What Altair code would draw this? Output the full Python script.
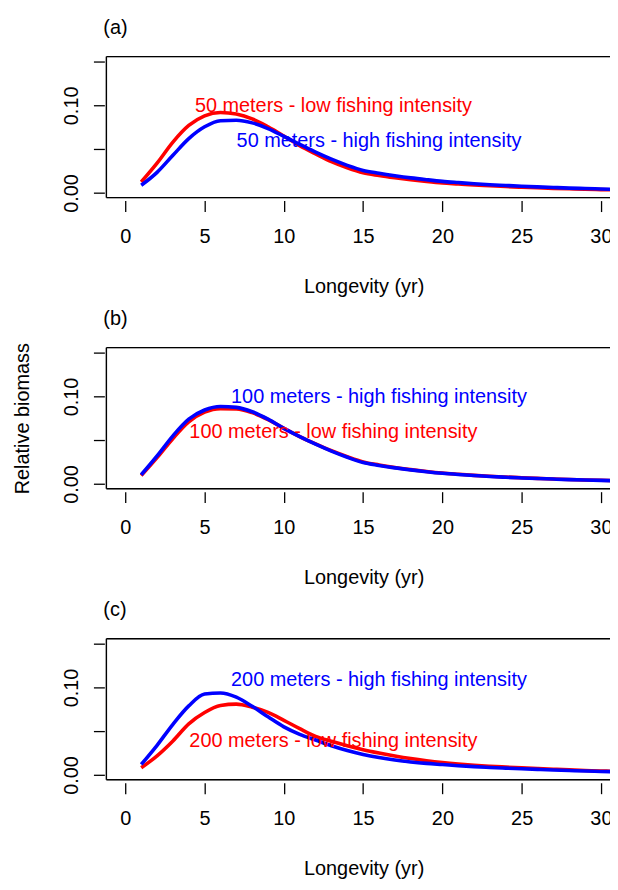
import altair as alt
import pandas as pd

# ---------------- data ----------------
longevity = [1, 2, 3, 4, 5, 6, 7, 8, 9, 10, 11, 12, 13, 14, 15, 16,
             17, 18, 19, 20, 21, 22, 23, 24, 25, 26, 27, 28, 29, 30, 31]

a_low = [0.0125, 0.034, 0.058, 0.077, 0.088, 0.0918, 0.0900, 0.0845, 0.0755, 0.065,
         0.054, 0.0446, 0.0358, 0.0287, 0.023, 0.0199, 0.0173, 0.0150, 0.0130, 0.0113,
         0.0102, 0.0091, 0.0082, 0.0073, 0.0065, 0.0058, 0.0052, 0.0047, 0.0042, 0.0038, 0.0035]
a_high = [0.0087, 0.0235, 0.043, 0.062, 0.0755, 0.0825, 0.0830, 0.0800, 0.0735, 0.0645,
          0.0555, 0.0465, 0.0385, 0.0315, 0.0257, 0.0225, 0.0197, 0.0172, 0.0151, 0.0132,
          0.0118, 0.0105, 0.0094, 0.0085, 0.0076, 0.0069, 0.0062, 0.0055, 0.0050, 0.0045, 0.0041]

b_low = [0.0095, 0.030, 0.052, 0.071, 0.082, 0.086, 0.0858, 0.0815, 0.0735, 0.0635,
         0.0542, 0.0458, 0.0380, 0.0312, 0.0252, 0.0217, 0.0188, 0.0164, 0.0143, 0.0125,
         0.0111, 0.0098, 0.0088, 0.0079, 0.0071, 0.0064, 0.0057, 0.0051, 0.0046, 0.0042, 0.0038]
b_high = [0.0105, 0.032, 0.055, 0.074, 0.0845, 0.0885, 0.0875, 0.0825, 0.074, 0.0635,
          0.054, 0.0454, 0.0375, 0.0305, 0.0245, 0.0212, 0.0184, 0.0161, 0.0140, 0.0122,
          0.0108, 0.0096, 0.0086, 0.0077, 0.0069, 0.0062, 0.0056, 0.0050, 0.0045, 0.0041, 0.0037]

c_low = [0.0083, 0.022, 0.039, 0.0585, 0.0715, 0.0795, 0.0810, 0.0775, 0.0715, 0.0625,
         0.0530, 0.0442, 0.0385, 0.0335, 0.0290, 0.0252, 0.0218, 0.0188, 0.0163, 0.0142,
         0.0125, 0.0111, 0.0100, 0.0091, 0.0083, 0.0075, 0.0067, 0.0059, 0.0052, 0.0046, 0.0042]
c_high = [0.0121, 0.034, 0.058, 0.079, 0.0925, 0.0938, 0.0890, 0.0785, 0.0665, 0.0550,
          0.0465, 0.0400, 0.0335, 0.0280, 0.0235, 0.0200, 0.0172, 0.0150, 0.0133, 0.0120,
          0.0107, 0.0096, 0.0087, 0.0079, 0.0072, 0.0065, 0.0058, 0.0052, 0.0046, 0.0041, 0.0037]

panel_tags = ["(a)", "(b)", "(c)"]
depths = ["50", "100", "200"]
low_label_x = [13, 13, 13]
low_label_y = [0.10, 0.06, 0.04]
high_label_x = [16, 16, 16]
high_label_y = [0.06, 0.10, 0.11]

x_ticks = [0, 5, 10, 15, 20, 25, 30]
y_ticks = [0, 0.05, 0.10, 0.15]

RED = "#ff0000"
BLUE = "#0000ff"
FONT = "Liberation Sans"
W, H = 509, 142


def panel(i, low, high, show_ytitle):
    df_low = pd.DataFrame({"x": longevity, "y": low})
    df_high = pd.DataFrame({"x": longevity, "y": high})

    x_enc = alt.X(
        "x:Q",
        scale=alt.Scale(domain=[-1.2, 30.7], nice=False, zero=False),
        axis=alt.Axis(
            values=x_ticks, format="d", domain=False, grid=False,
            tickSize=11, tickWidth=1.3, tickColor="black", offset=3,
            labelPadding=15, labelFontSize=20, labelFont=FONT, labelColor="black",
            labelAngle=0, labelOverlap=False,
            title="Longevity (yr)", titleFontSize=20, titleFont=FONT,
            titleFontWeight="normal", titleColor="black", titlePadding=30,
            titleX=259,
        ),
    )
    y_enc = alt.Y(
        "y:Q",
        scale=alt.Scale(domain=[-0.0054, 0.1557], nice=False, zero=False),
        axis=alt.Axis(
            values=y_ticks, domain=False, grid=False,
            labelExpr="(datum.value < 0.001 || abs(datum.value - 0.1) < 0.001) ? format(datum.value, '.2f') : ''",
            tickSize=11, tickWidth=1.3, tickColor="black", offset=2,
            labelAngle=270, labelAlign="center", labelBaseline="bottom",
            labelPadding=12, labelFontSize=20, labelFont=FONT, labelColor="black",
            labelOverlap=False,
            title="Relative biomass", titleFontSize=20, titleFont=FONT,
            titleFontWeight="normal", titleColor="black", titlePadding=29,
            titleOpacity=1 if show_ytitle else 0,
        ),
    )

    red_line = alt.Chart(df_low).mark_line(
        color=RED, strokeWidth=3.6, interpolate="monotone", clip=True
    ).encode(x=x_enc, y=y_enc)
    blue_line = alt.Chart(df_high).mark_line(
        color=BLUE, strokeWidth=3.6, interpolate="monotone", clip=True
    ).encode(x=x_enc, y=y_enc)

    lab_low = pd.DataFrame({"x": [low_label_x[i]], "y": [low_label_y[i]],
                            "t": [f"{depths[i]} meters - low fishing intensity"]})
    lab_high = pd.DataFrame({"x": [high_label_x[i]], "y": [high_label_y[i]],
                             "t": [f"{depths[i]} meters - high fishing intensity"]})
    txt_low = alt.Chart(lab_low).mark_text(
        color=RED, fontSize=20, font=FONT, align="center", baseline="middle", dx=2, dy=1
    ).encode(x=x_enc, y=y_enc, text="t:N")
    txt_high = alt.Chart(lab_high).mark_text(
        color=BLUE, fontSize=20, font=FONT, align="center", baseline="middle", dy=1
    ).encode(x=x_enc, y=y_enc, text="t:N")

    one = pd.DataFrame({"k": [0]})
    top_rule = alt.Chart(one).mark_rule(color="black", strokeWidth=1.4).encode(
        x=alt.value(0), x2=alt.value(W), y=alt.value(0))
    left_rule = alt.Chart(one).mark_rule(color="black", strokeWidth=1.4).encode(
        x=alt.value(0), y=alt.value(0), y2=alt.value(H))
    bottom_rule = alt.Chart(one).mark_rule(color="black", strokeWidth=1.4).encode(
        x=alt.value(0), x2=alt.value(W), y=alt.value(H))

    return alt.layer(
        red_line, blue_line, txt_low, txt_high, top_rule, left_rule, bottom_rule
    ).properties(
        width=W, height=H,
        title=alt.TitleParams(
            panel_tags[i], anchor="start", frame="group", fontSize=20, font=FONT,
            fontWeight="normal", color="black", baseline="alphabetic",
            offset=-2, dx=-3,
        ),
    )


chart = alt.vconcat(
    panel(0, a_low, a_high, False),
    panel(1, b_low, b_high, True),
    panel(2, c_low, c_high, False),
    spacing=11,
).properties(
    padding={"left": 4, "top": 6, "right": -4, "bottom": 0},
).configure_view(stroke=None).configure(background="white")

chart.save("out.html", embed_options={"renderer": "svg", "actions": False})
